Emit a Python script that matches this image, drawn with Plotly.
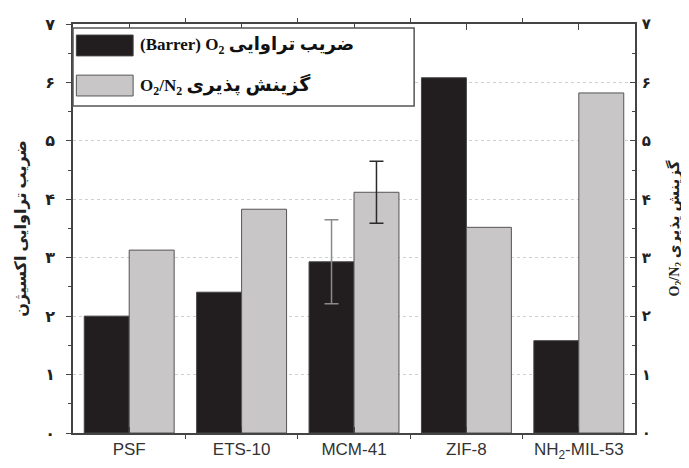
import plotly.graph_objects as go

categories = ["PSF", "ETS-10", "MCM-41", "ZIF-8", "NH<sub>2</sub>-MIL-53"]
permeability_o2 = [2.0, 2.41, 2.93, 6.08, 1.58]
selectivity_o2n2 = [3.13, 3.83, 4.12, 3.52, 5.82]
perm_err = [None, None, 0.72, None, None]
sel_err = [None, None, 0.53, None, None]
y_tickvals = [0, 1, 2, 3, 4, 5, 6, 7]
y_ticktext = ["۰", "۱", "۲", "۳", "۴", "۵", "۶", "۷"]

legend_perm = "(Barrer) O<sub>2</sub> <span style='font-size:18px'>ضریب تراوایی</span>"
legend_sel = "O<sub>2</sub>/N<sub>2</sub> <span style='font-size:19px'>گزینش پذیری</span>"
left_title = "ضریب تراوایی اکسیژن"
right_title = "O<sub>2</sub>/N<sub>2</sub> <span style='font-size:15px'>گزینش پذیری</span>"

BAR_W = 0.4
xpos = list(range(len(categories)))

fig = go.Figure()
fig.add_trace(go.Bar(
    x=xpos, y=permeability_o2, width=BAR_W, offset=-BAR_W,
    marker=dict(color="#221e1f", line=dict(color="#444444", width=1)),
    yaxis="y", showlegend=False, name="ضریب تراوایی O2 (Barrer)",
))
fig.add_trace(go.Bar(
    x=xpos, y=selectivity_o2n2, width=BAR_W, offset=0,
    marker=dict(color="#c8c6c7", line=dict(color="#555555", width=1)),
    yaxis="y2", showlegend=False, name="گزینش پذیری O2/N2",
))

# error bars only where given, centred on each bar
pe_idx = [i for i, e in enumerate(perm_err) if e is not None]
se_idx = [i for i, e in enumerate(sel_err) if e is not None]
fig.add_trace(go.Scatter(
    x=[xpos[i] - BAR_W / 2 for i in pe_idx], y=[permeability_o2[i] for i in pe_idx],
    mode="markers", marker=dict(size=1, color="rgba(0,0,0,0)"),
    error_y=dict(type="data", array=[perm_err[i] for i in pe_idx], color="#8a8a8a",
                 thickness=1.5, width=7),
    yaxis="y", showlegend=False, hoverinfo="skip",
))
fig.add_trace(go.Scatter(
    x=[xpos[i] + BAR_W / 2 for i in se_idx], y=[selectivity_o2n2[i] for i in se_idx],
    mode="markers", marker=dict(size=1, color="rgba(0,0,0,0)"),
    error_y=dict(type="data", array=[sel_err[i] for i in se_idx], color="#2a2a2a",
                 thickness=1.5, width=7),
    yaxis="y2", showlegend=False, hoverinfo="skip",
))

serif = "Liberation Serif, DejaVu Serif, DejaVu Sans, serif"
axis_col = "#444444"

fig.update_layout(
    width=681, height=460,
    margin=dict(l=65, r=54, t=16, b=35),
    paper_bgcolor="white", plot_bgcolor="white",
    xaxis=dict(
        range=[-0.5, 4.5], tickvals=xpos, ticktext=categories, automargin=False,
        showline=True, linecolor=axis_col, linewidth=1.5, mirror="ticks",
        ticks="inside", ticklen=6, tickcolor=axis_col,
        minor=dict(tickvals=[0.5, 1.5, 2.5, 3.5], ticks="outside", ticklen=4, tickcolor=axis_col),
        showgrid=False, zeroline=False,
        tickfont=dict(family="Liberation Sans, Arial, sans-serif", size=17, color="#333333"),
    ),
    yaxis=dict(
        range=[0, 7], tickvals=y_tickvals, ticktext=y_ticktext, automargin=False,
        showline=True, linecolor=axis_col, linewidth=1.5,
        ticks="outside", ticklen=5, tickcolor=axis_col,
        minor=dict(dtick=0.5, ticks="outside", ticklen=3, tickcolor=axis_col, showgrid=False),
        showgrid=True, gridcolor="#cfcfcf", griddash="dot", gridwidth=1,
        zeroline=False, ticklabelstandoff=8,
        tickfont=dict(family="DejaVu Sans, sans-serif", size=16, color="#222222", weight="bold"),
        title=dict(text=left_title, standoff=15,
                   font=dict(family=serif, size=16, color="#222222", weight="bold")),
    ),
    yaxis2=dict(
        range=[0, 7], tickvals=y_tickvals, ticktext=y_ticktext, automargin=False,
        overlaying="y", side="right",
        showline=True, linecolor=axis_col, linewidth=1.5,
        ticks="inside", ticklen=5, tickcolor=axis_col,
        minor=dict(dtick=0.5, ticks="inside", ticklen=3, tickcolor=axis_col, showgrid=False),
        showgrid=False, zeroline=False, ticklabelstandoff=2,
        tickfont=dict(family="DejaVu Sans, sans-serif", size=15, color="#222222", weight="bold"),
        title=dict(text=right_title, standoff=19,
                   font=dict(family=serif, size=14, color="#222222", weight="bold")),
    ),
)

# manual legend
fig.add_shape(type="rect", xref="paper", yref="paper", x0=0.0, x1=0.607, y0=0.7995, y1=0.99,
              line=dict(color="#555555", width=1.5), fillcolor="white", layer="above")
fig.add_shape(type="rect", xref="paper", yref="paper", x0=0.006, x1=0.107, y0=0.922, y1=0.973,
              line=dict(color="#444444", width=1), fillcolor="#221e1f", layer="above")
fig.add_shape(type="rect", xref="paper", yref="paper", x0=0.006, x1=0.107, y0=0.824, y1=0.875,
              line=dict(color="#555555", width=1), fillcolor="#c8c6c7", layer="above")
fig.add_annotation(xref="paper", yref="paper", x=0.117, y=0.947, xanchor="left", yanchor="middle",
                   text="<b>" + legend_perm + "</b>", showarrow=False, borderpad=0,
                   font=dict(family=serif, size=17, color="#111111"))
fig.add_annotation(xref="paper", yref="paper", x=0.117, y=0.850, xanchor="left", yanchor="middle",
                   text="<b>" + legend_sel + "</b>", showarrow=False, borderpad=0,
                   font=dict(family=serif, size=17, color="#111111"))

fig.write_html("out.html")
